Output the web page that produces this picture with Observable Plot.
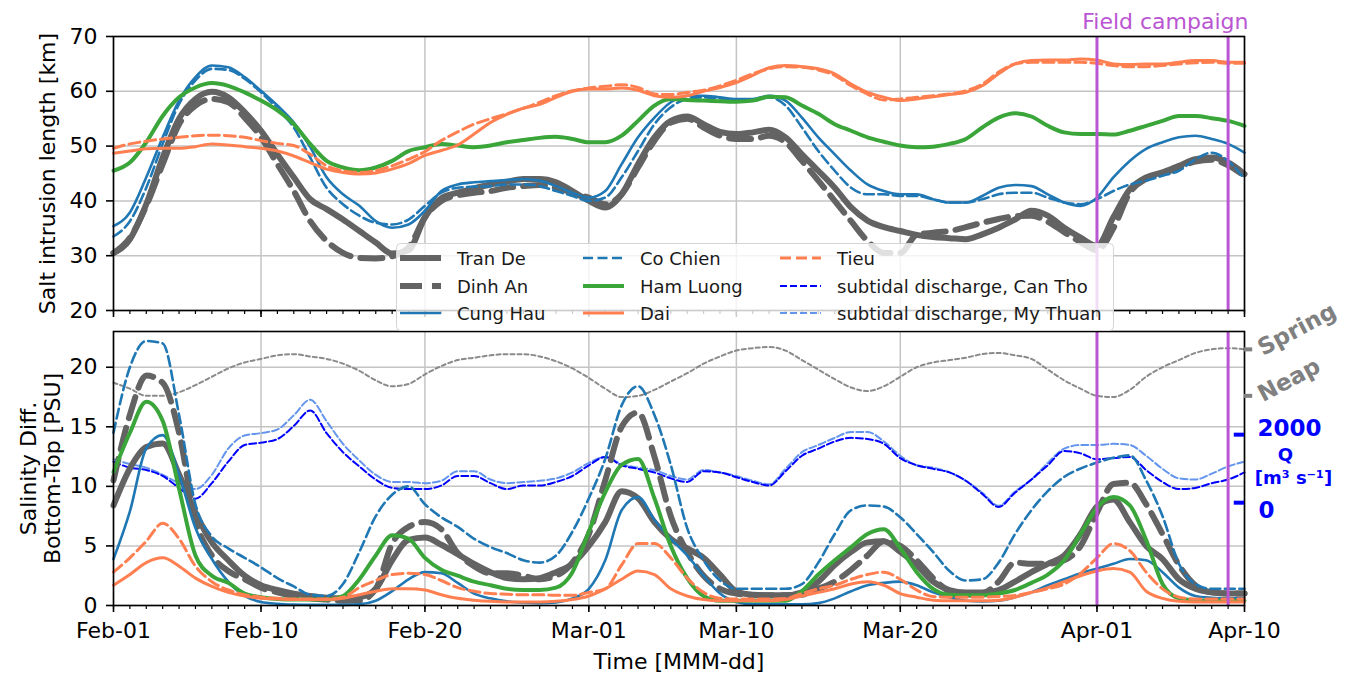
<!DOCTYPE html>
<html><head><meta charset="utf-8">
<script src="https://cdn.jsdelivr.net/npm/d3@7"></script>
<script src="https://cdn.jsdelivr.net/npm/@observablehq/plot@0.6"></script>
<style>
body{margin:0;background:#fff;font-family:"DejaVu Sans",sans-serif;}
#wrap{position:relative;width:1353px;height:678px;overflow:hidden;background:#fff;}
#wrap svg{position:absolute;left:0;overflow:visible;}
</style></head><body><div id="wrap"></div>
<script>
// ---------- data (daily values, 2020-02-01 .. 2020-04-10) ----------
const startDate = "2020-02-01";
const endDate = "2020-04-10";
const majorTickLabels = ["2020-02-01","2020-02-10","2020-02-20","2020-03-01","2020-03-10","2020-03-20","2020-04-01","2020-04-10"];
const campaignDates = ["2020-04-01","2020-04-09"];
const yTicksTop = [20,30,40,50,60,70];
const yTicksBottom = [0,5,10,15,20];

// Salt intrusion length [km]
const tranDeL = [30.5,33.0,39.4,47.9,55.0,58.6,59.9,58.9,56.2,52.8,48.5,44.3,40.3,38.5,36.6,34.5,32.4,30.4,31.0,37.0,40.5,41.5,42.3,43.0,43.5,44.0,44.0,43.4,41.8,40.0,38.8,41.2,46.7,51.6,54.6,55.4,54.0,52.6,52.2,52.5,53.0,51.6,48.5,45.5,42.4,38.8,36.4,35.2,34.5,33.8,33.4,33.2,33.0,33.9,35.1,36.6,38.2,37.3,35.1,33.3,31.8,37.0,42.1,44.3,45.2,46.4,47.6,47.9,47.0,44.9];
const dinhAnL = [30.5,33.3,39.1,46.7,54.0,57.4,58.6,58.0,55.2,51.6,46.7,41.8,36.3,32.7,30.5,29.6,29.5,29.9,31.5,37.0,40.0,41.0,41.5,41.8,42.4,42.7,42.9,42.4,41.5,40.6,39.4,41.2,46.1,51.0,54.3,55.0,53.4,51.9,51.3,51.3,51.9,50.7,47.3,43.7,40.0,36.3,32.7,30.5,30.5,33.8,34.2,34.5,35.2,36.0,36.7,37.2,37.3,36.2,34.3,32.5,31.0,35.0,41.5,44.0,45.0,46.0,47.2,47.5,46.5,44.5];
const cungHauL = [35.4,37.9,44.3,51.6,58.3,62.6,64.7,64.4,62.6,60.1,57.4,54.3,49.8,44.3,41.2,39.1,36.3,35.1,35.7,38.2,41.8,43.0,43.4,43.6,43.8,44.0,43.7,42.7,41.5,40.6,41.8,46.7,51.6,55.2,58.0,59.2,59.2,58.9,58.6,58.6,59.2,58.3,55.2,51.6,48.5,45.5,43.0,41.8,41.2,41.2,40.3,39.7,39.7,40.9,42.4,42.9,42.7,41.2,39.7,39.1,40.6,44.3,47.3,49.5,50.7,51.6,51.9,51.3,50.4,48.8];
const coChienL = [33.5,36.3,42.4,50.4,57.7,62.0,64.1,63.9,62.3,59.8,56.8,53.4,47.9,42.4,39.4,37.3,36.0,35.7,36.6,39.1,41.5,42.4,42.6,42.7,43.0,43.0,42.7,41.8,40.9,40.0,40.6,44.3,49.1,54.0,57.1,58.6,58.9,58.7,58.3,58.3,58.9,57.4,53.4,49.1,45.5,42.4,41.2,41.2,40.9,40.9,40.3,39.7,39.7,40.3,41.2,41.5,41.5,40.6,39.7,39.4,40.3,41.8,43.0,43.7,44.6,45.5,47.6,48.8,47.3,44.0];
const hamLuongL = [45.5,47.0,50.7,55.5,58.9,60.7,61.5,61.0,59.8,58.3,56.5,54.0,50.4,47.3,46.1,45.6,46.1,47.3,49.1,49.8,50.4,50.1,49.8,50.1,50.7,51.1,51.5,51.7,51.3,50.7,50.7,51.9,54.6,57.4,58.6,58.4,58.3,58.2,58.1,58.3,59.0,58.9,57.4,55.9,54.0,52.8,51.6,50.8,50.1,49.8,49.9,50.4,51.3,53.4,55.2,56.0,55.4,53.7,52.5,52.2,52.2,52.1,52.8,53.7,54.6,55.5,55.5,55.1,54.6,53.7];
const daiL = [48.7,49.1,49.5,49.6,49.6,49.9,50.4,50.2,49.9,49.6,49.1,48.2,47.0,45.8,45.2,44.9,45.1,45.8,46.8,48.3,49.2,50.2,52.2,54.3,55.8,56.9,57.6,58.9,60.0,60.4,60.4,60.6,60.2,59.2,58.9,59.2,60.0,60.7,61.6,62.9,64.3,64.7,64.5,64.1,63.2,61.3,59.8,58.9,58.3,58.6,59.0,59.4,59.8,61.0,63.2,65.0,65.6,65.7,65.7,65.9,65.7,65.0,64.9,65.0,65.0,65.3,65.6,65.6,65.3,65.3];
const tieuL = [49.6,50.4,50.9,51.3,51.6,51.9,52.0,51.9,51.6,51.0,50.5,50.1,48.5,46.4,45.5,45.2,45.5,46.4,47.6,49.0,51.0,52.6,54.0,55.0,55.9,56.9,58.0,59.2,60.1,60.6,60.9,61.2,60.7,59.5,59.4,59.8,60.2,61.0,62.0,63.2,64.1,64.5,64.4,63.9,62.9,61.0,59.5,58.4,58.6,58.9,59.2,59.5,60.1,61.3,63.5,65.0,65.3,65.3,65.3,65.3,65.1,64.7,64.5,64.5,64.7,65.0,65.2,65.3,65.1,65.1];

// Salinity difference bottom - top [PSU]
const tranDeS = [8.4,11.5,13.3,13.6,11.0,7.8,5.3,3.8,2.5,1.7,1.3,1.0,0.8,0.65,0.6,0.7,1.4,3.8,5.5,5.7,5.1,4.3,3.5,2.8,2.3,2.2,2.3,2.8,3.5,5.0,7.0,9.6,9.0,7.0,5.6,4.8,4.0,2.6,1.2,0.9,0.85,0.85,1.1,2.0,3.4,4.5,5.3,5.4,4.5,3.4,2.0,1.3,1.1,1.1,1.3,2.0,2.8,3.5,4.2,6.0,8.3,8.9,7.0,5.0,3.9,2.2,1.4,1.1,1.0,1.0];
const dinhAnS = [10.5,16.0,19.3,18.7,14.5,7.2,4.2,2.9,2.2,1.5,1.1,0.8,0.6,0.5,0.4,0.4,1.4,5.2,6.6,7.0,6.4,4.4,3.3,2.7,2.7,2.5,2.2,2.5,3.6,6.0,10.5,15.0,16.2,12.5,7.5,4.5,2.5,1.4,1.0,0.85,0.85,0.85,0.9,1.4,2.0,3.0,4.2,5.4,5.0,3.8,2.3,1.2,0.9,1.0,2.0,3.6,3.5,3.5,3.8,5.0,7.8,10.2,10.3,8.5,6.0,3.4,1.7,1.1,1.0,1.0];
const cungHauS = [3.9,7.9,13.2,14.3,11.0,6.5,3.9,2.0,0.8,0.3,0.15,0.08,0.05,0.05,0.05,0.1,0.4,1.2,2.2,2.8,2.7,1.9,1.0,0.6,0.35,0.25,0.2,0.25,0.6,1.4,3.8,8.0,9.1,7.2,5.6,4.2,2.5,1.0,0.3,0.1,0.1,0.1,0.1,0.2,0.6,1.2,1.7,1.9,2.0,1.7,1.1,0.7,0.4,0.35,0.4,0.7,1.1,1.7,2.2,2.7,3.1,3.5,3.9,3.8,2.8,1.5,0.8,0.65,0.6,0.6];
const coChienS = [14.5,20.0,22.2,22.0,16.0,8.5,5.8,4.8,4.0,3.2,2.3,1.6,0.9,0.8,1.8,4.5,7.5,9.3,10.0,8.5,7.4,6.6,5.6,4.9,4.4,3.8,3.6,4.2,6.2,9.0,12.3,16.8,18.4,16.0,11.8,6.5,3.8,2.1,1.4,1.4,1.4,1.4,1.8,3.6,6.0,8.0,8.4,8.3,7.4,6.0,4.5,2.9,2.1,2.2,3.6,6.0,8.0,9.6,10.8,11.5,12.0,12.4,12.6,10.5,7.5,3.5,1.8,1.4,1.4,1.4];
const hamLuongS = [11.2,14.5,17.1,15.5,9.8,4.2,2.5,1.9,1.0,0.7,0.55,0.5,0.5,0.5,0.8,2.2,4.2,5.9,5.6,4.0,3.0,2.5,2.0,1.7,1.4,1.3,1.3,1.5,2.8,6.2,9.5,11.8,12.3,9.0,5.0,2.3,0.8,0.4,0.4,0.4,0.4,0.4,1.2,2.6,3.8,4.9,6.0,6.4,4.8,2.8,1.4,0.9,0.85,0.85,1.0,1.3,1.9,2.6,3.8,6.0,8.2,9.1,8.4,5.5,1.8,0.6,0.45,0.4,0.4,0.4];
const daiS = [1.7,2.6,3.6,4.0,3.3,2.3,1.6,1.1,0.8,0.6,0.55,0.5,0.5,0.5,0.6,0.9,1.2,1.4,1.4,1.3,0.9,0.6,0.45,0.35,0.3,0.3,0.3,0.35,0.5,0.8,1.4,2.2,2.9,2.6,1.4,0.8,0.5,0.4,0.4,0.4,0.4,0.5,0.8,1.1,1.4,1.8,2.0,1.7,1.0,0.7,0.45,0.4,0.4,0.4,0.45,0.7,1.1,1.5,2.0,2.5,2.9,3.1,2.8,1.2,0.6,0.35,0.3,0.3,0.3,0.3];
const tieuS = [2.8,4.0,5.4,6.9,5.6,3.3,2.0,1.3,0.9,0.7,0.6,0.55,0.55,0.55,0.7,1.5,2.1,2.6,2.7,2.6,2.1,1.5,1.2,1.0,0.95,0.9,0.9,0.85,0.85,1.1,1.4,3.4,5.2,5.2,4.0,2.3,1.1,0.6,0.55,0.55,0.55,0.6,1.0,1.4,1.7,2.2,2.6,2.8,2.2,1.3,0.75,0.7,0.7,0.7,0.75,0.85,1.1,1.4,1.8,2.7,4.0,5.2,4.6,2.8,1.4,0.7,0.55,0.55,0.55,0.55];

// Subtidal discharge [m3/s] (right axis)
const qCanTho = [1205,1030,960,785,434,119,574,1205,1695,1766,1871,2256,2711,2046,1485,1065,680,434,399,399,504,785,785,574,399,504,504,609,785,1100,1345,1100,995,890,715,609,925,890,750,609,504,925,1380,1590,1800,1906,1871,1730,1310,1100,995,890,645,259,-126,294,680,1100,1520,1450,1275,1310,1345,960,609,399,434,574,680,890];
const qMyThuan = [1275,1135,1030,820,574,399,820,1590,1976,2046,2151,2571,3027,2396,1730,1240,820,609,609,574,645,925,925,680,574,609,645,715,890,1170,1345,1135,1030,960,785,680,960,890,785,645,539,995,1485,1695,1906,2081,2081,1800,1380,1100,1030,890,645,294,-91,329,680,1170,1590,1695,1695,1730,1695,1380,995,715,680,855,1065,1205];
const qTicks = [0, 2000];

// Tidal range indicator (plotted on the salinity axis, Spring/Neap marks)
const tidalRange = [18.7,18.2,17.6,17.6,17.9,18.5,19.2,19.9,20.4,20.7,21.0,21.1,20.9,20.7,20.3,19.7,18.9,18.4,18.6,19.4,20.1,20.6,20.8,21.0,21.1,21.1,20.9,20.5,19.9,19.1,18.2,17.5,17.6,18.1,18.8,19.5,20.3,20.9,21.4,21.6,21.7,21.4,20.6,19.8,19.0,18.3,18.0,18.4,19.2,20.0,20.4,20.6,20.8,21.1,21.2,21.0,20.7,19.8,18.9,18.2,17.6,17.5,18.1,19.2,20.0,20.6,21.2,21.5,21.6,21.5];
const tideLabels = ["Spring","Neap"];
const tideLevels = [21.5, 17.6];

// ---------- helpers ----------
const parse = s => new Date(s + "T00:00:00Z");
const start = parse(startDate), end = parse(endDate);
const dates = d3.utcDay.range(start, d3.utcDay.offset(end, 1));
const majorTicks = majorTickLabels.map(parse);
const campaign = campaignDates.map(parse);
const rows = vals => vals.map((v, i) => ({date: dates[i], v}));
const qScale = d3.scaleLinear([0, 2000], [8.63, 14.34]); // twin axis
const qRows = vals => vals.map((q, i) => ({date: dates[i], v: qScale(q)}));

const GRAY = "#636363", BLUE = "#1f77b4", GREEN = "#3aa63a", CORAL = "#ff7f50",
      DBLUE = "#0000ff", LBLUE = "#6495ed", PURPLE = "#ba55d3", GRID = "#c4c4c4";

const styles = {
  "Tran De":   {stroke: GRAY, w: 6, dash: null},
  "Dinh An":   {stroke: GRAY, w: 6, dash: "22,10"},
  "Cung Hau":  {stroke: BLUE, w: 2.6, dash: null},
  "Co Chien":  {stroke: BLUE, w: 2.6, dash: "10,4.5"},
  "Ham Luong": {stroke: GREEN, w: 4, dash: null},
  "Dai":       {stroke: CORAL, w: 3, dash: null},
  "Tieu":      {stroke: CORAL, w: 3, dash: "11,5"},
  "subtidal discharge, Can Tho":  {stroke: DBLUE, w: 2, dash: "7,3"},
  "subtidal discharge, My Thuan": {stroke: LBLUE, w: 2, dash: "7,3"}
};
const lineMark = (data, name) => {
  const s = styles[name];
  return Plot.line(data, {x: "date", y: "v", stroke: s.stroke, strokeWidth: s.w,
    strokeDasharray: s.dash ?? undefined, curve: "monotone-x", strokeLinejoin: "round"});
};

const topNames = ["Tran De","Dinh An","Cung Hau","Co Chien","Ham Luong","Dai","Tieu"];
const topVals = [tranDeL, dinhAnL, cungHauL, coChienL, hamLuongL, daiL, tieuL];
const botVals = [tranDeS, dinhAnS, cungHauS, coChienS, hamLuongS, daiS, tieuS];

const common = {
  width: 1353, marginLeft: 113, marginRight: 109,
  style: {fontFamily: "DejaVu Sans", background: "transparent", overflow: "visible", color: "black"},
  x: {type: "utc", domain: [start, end], label: null}
};

const topPlot = Plot.plot({
  ...common, height: 322, marginTop: 36, marginBottom: 12,
  y: {domain: [20, 70], label: null},
  marks: [
    Plot.gridX(majorTicks, {stroke: GRID, strokeOpacity: 1, strokeWidth: 1.5}),
    Plot.gridY(yTicksTop, {stroke: GRID, strokeOpacity: 1, strokeWidth: 1.5}),
    ...topNames.map((n, i) => lineMark(rows(topVals[i]), n)),
    Plot.ruleX(campaign, {stroke: PURPLE, strokeWidth: 3}),
    Plot.frame({stroke: "black", strokeWidth: 1.6}),
    Plot.axisY(yTicksTop, {tickSize: 7, tickPadding: 9, fontSize: 22, label: null, strokeWidth: 1.6}),
    Plot.axisX(dates, {tickSize: 4, tickFormat: () => "", label: null, strokeWidth: 1.2}),
    Plot.axisX(majorTicks, {tickSize: 7, tickFormat: () => "", label: null, strokeWidth: 1.6}),
    Plot.text(["Salt intrusion length [km]"], {frameAnchor: "left", dx: -66, rotate: -90,
      textAnchor: "middle", lineAnchor: "middle", fontSize: 22}),
    Plot.text(["Field campaign"], {frameAnchor: "top-right", dx: 4, dy: -15, textAnchor: "end",
      lineAnchor: "middle", fill: PURPLE, fontSize: 22})
  ]
});

const botPlot = Plot.plot({
  ...common, height: 356, marginTop: 9, marginBottom: 73,
  y: {domain: [0, 23], label: null},
  marks: [
    Plot.gridX(majorTicks, {stroke: GRID, strokeOpacity: 1, strokeWidth: 1.5}),
    Plot.gridY(yTicksBottom, {stroke: GRID, strokeOpacity: 1, strokeWidth: 1.5}),
    Plot.line(rows(tidalRange), {x: "date", y: "v", stroke: "#8a8a8a", strokeWidth: 2,
      strokeDasharray: "4,3", curve: "monotone-x"}),
    lineMark(qRows(qMyThuan), "subtidal discharge, My Thuan"),
    lineMark(qRows(qCanTho), "subtidal discharge, Can Tho"),
    ...topNames.map((n, i) => lineMark(rows(botVals[i]), n)),
    Plot.ruleX(campaign, {stroke: PURPLE, strokeWidth: 3}),
    Plot.frame({stroke: "black", strokeWidth: 1.6}),
    Plot.axisY(yTicksBottom, {tickSize: 7, tickPadding: 9, fontSize: 22, label: null, strokeWidth: 1.6}),
    Plot.axisX(dates, {tickSize: 4, tickFormat: () => "", label: null, strokeWidth: 1.2}),
    Plot.axisX(majorTicks, {tickSize: 7, tickPadding: 10, fontSize: 22, label: null, strokeWidth: 1.6,
      tickFormat: d3.utcFormat("%b-%d")}),
    Plot.text(["Salinity Diff.\nBottom-Top [PSU]"], {frameAnchor: "left", dx: -73, rotate: -90,
      textAnchor: "middle", lineAnchor: "middle", fontSize: 22, lineHeight: 1.1}),
    Plot.text(["Time [MMM-dd]"], {frameAnchor: "bottom", dy: 56, fontSize: 22, lineAnchor: "middle"}),
    // Spring / Neap marks
    Plot.ruleY(tideLevels, {y: d => d, x1: () => end, x2: () => d3.utcHour.offset(end, 12),
      stroke: "#808080", strokeWidth: 4}),
    Plot.text(tideLabels, {x: () => end, y: (d, i) => tideLevels[i], dx: 15, textAnchor: "start",
      lineAnchor: "middle", rotate: -28, fill: "#808080", fontWeight: "bold", fontSize: 23}),
    // discharge twin-axis marks
    Plot.ruleY(qTicks, {y: q => qScale(q), x1: () => d3.utcHour.offset(end, -15), x2: () => end,
      stroke: DBLUE, strokeWidth: 4}),
    Plot.text([qTicks[1]], {x: () => end, y: q => qScale(q), dx: 13, dy: -6, textAnchor: "start",
      lineAnchor: "middle", fill: DBLUE, fontWeight: "bold", fontSize: 23, text: q => String(q)}),
    Plot.text([qTicks[0]], {x: () => end, y: q => qScale(q), dx: 14, dy: 8, textAnchor: "start",
      lineAnchor: "middle", fill: DBLUE, fontWeight: "bold", fontSize: 23, text: q => String(q)}),
    Plot.text(["Q"], {x: () => end, y: () => qScale(1000), dx: 41, dy: -13, fill: DBLUE,
      fontWeight: "bold", fontSize: 18, lineAnchor: "middle"}),
    Plot.text(["[m³ s⁻¹]"], {x: () => end, y: () => qScale(1000), dx: 49, dy: 10, fill: DBLUE,
      fontWeight: "bold", fontSize: 18, lineAnchor: "middle"})
  ]
});

const wrap = document.getElementById("wrap");
topPlot.style.top = "0px";
botPlot.style.top = "322px";
wrap.appendChild(topPlot);
wrap.appendChild(botPlot);

// ---------- legend ----------
const legendNames = [
  ["Tran De","Dinh An","Cung Hau"],
  ["Co Chien","Ham Luong","Dai"],
  ["Tieu","subtidal discharge, Can Tho","subtidal discharge, My Thuan"]
];
const colX = [4, 187, 384];
const rowY = [15, 43, 70];
const leg = d3.select(wrap).append("svg")
  .attr("width", 718).attr("height", 88)
  .style("left", "396px").style("top", "243px");
leg.append("rect").attr("x", 0.5).attr("y", 0.5).attr("width", 717).attr("height", 87)
  .attr("rx", 4).attr("fill", "white").attr("fill-opacity", 0.8)
  .attr("stroke", "#d4d4d4").attr("stroke-width", 1);
legendNames.forEach((col, c) => col.forEach((name, r) => {
  const s = styles[name];
  leg.append("line").attr("x1", colX[c]).attr("x2", colX[c] + 41)
    .attr("y1", rowY[r]).attr("y2", rowY[r])
    .attr("stroke", s.stroke).attr("stroke-width", s.w)
    .attr("stroke-dasharray", s.dash);
  leg.append("text").attr("x", colX[c] + 57).attr("y", rowY[r])
    .attr("dominant-baseline", "central")
    .attr("font-family", "DejaVu Sans").attr("font-size", 18).attr("fill", "#1a1a1a")
    .text(name);
}));
</script></body></html>
